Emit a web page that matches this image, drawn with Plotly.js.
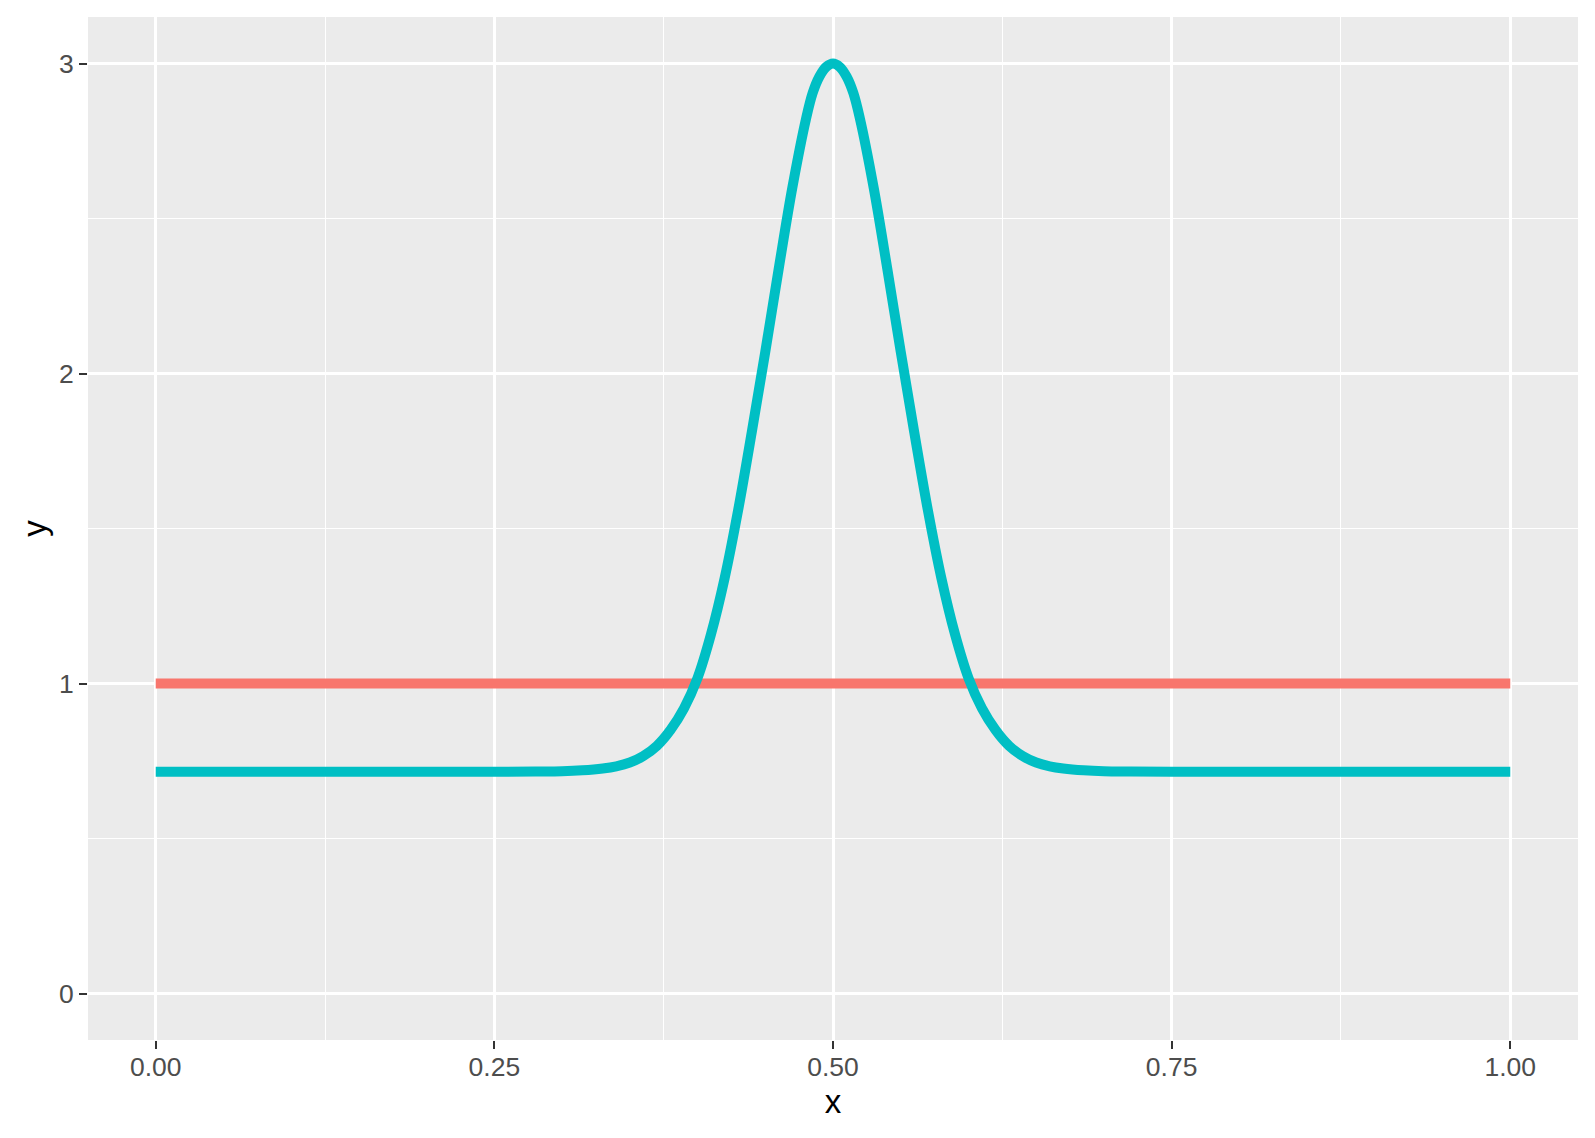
<!DOCTYPE html>
<html>
<head>
<meta charset="utf-8">
<script src="https://cdn.plot.ly/plotly-3.0.1.min.js"></script>
<style>html,body{margin:0;padding:0;background:#fff;}#chart{width:1595px;height:1138px;}</style>
</head>
<body>
<div id="chart"></div>
<script>
// Flat series (red)
var flatX = [0, 1];
var flatY = [1, 1];

// Peaked series (cyan)
var peakX = [0, 0.1, 0.2, 0.25, 0.28, 0.30, 0.315, 0.33, 0.34, 0.35, 0.36, 0.37, 0.38, 0.39, 0.40,
             0.41, 0.42, 0.43, 0.44, 0.45, 0.46, 0.47, 0.48, 0.485, 0.49, 0.495, 0.50,
             0.505, 0.51, 0.515, 0.52, 0.53, 0.54, 0.55, 0.56, 0.57, 0.58, 0.59, 0.60,
             0.61, 0.62, 0.63, 0.64, 0.65, 0.66, 0.67, 0.685, 0.70, 0.72, 0.75, 0.8, 0.9, 1.0];
var peakY = [0.715, 0.715, 0.715, 0.715, 0.716, 0.717, 0.720, 0.726, 0.733, 0.745, 0.766, 0.799, 0.850, 0.920, 1.018,
             1.16, 1.34, 1.56, 1.81, 2.07, 2.34, 2.60, 2.82, 2.905, 2.958, 2.989, 3.0,
             2.989, 2.958, 2.905, 2.82, 2.60, 2.34, 2.07, 1.81, 1.56, 1.34, 1.16, 1.018,
             0.920, 0.850, 0.799, 0.766, 0.745, 0.733, 0.726, 0.720, 0.717, 0.716, 0.715, 0.715, 0.715, 0.715];

var xTicks = [0, 0.25, 0.5, 0.75, 1];
var xTickText = ["0.00", "0.25", "0.50", "0.75", "1.00"];
var yTicks = [0, 1, 2, 3];
var yTickText = ["0", "1", "2", "3"];

var traces = [
  {x: flatX, y: flatY, type: 'scatter', mode: 'lines',
   line: {color: '#F8766D', width: 10}, hoverinfo: 'x+y'},
  {x: peakX, y: peakY, type: 'scatter', mode: 'lines',
   line: {color: '#00BFC4', width: 10, shape: 'spline', smoothing: 1}, hoverinfo: 'x+y'}
];

var tickFont = {family: 'Liberation Sans, Arial, sans-serif', size: 26.5, color: '#4D4D4D'};
var titleFont = {family: 'Liberation Sans, Arial, sans-serif', size: 33, color: '#000000'};

var layout = {
  width: 1595, height: 1138,
  margin: {l: 88, r: 17, t: 17, b: 98, pad: 0},
  paper_bgcolor: '#FFFFFF',
  plot_bgcolor: '#EBEBEB',
  showlegend: false,
  xaxis: {
    range: [-0.05, 1.05], autorange: false,
    tickmode: 'array', tickvals: xTicks, ticktext: xTickText,
    ticks: 'outside', ticklen: 8, tickwidth: 2.2, tickcolor: '#333333',
    ticklabelstandoff: -5,
    tickfont: tickFont,
    showgrid: true, gridcolor: '#FFFFFF', gridwidth: 2.6,
    minor: {tickmode: 'array', tickvals: [0.125, 0.375, 0.625, 0.875], showgrid: true, gridcolor: '#FFFFFF', gridwidth: 1.3, ticks: ''},
    zeroline: false, showline: false,
    title: {text: 'x', font: titleFont, standoff: 9},
    automargin: false
  },
  yaxis: {
    range: [-0.15, 3.15], autorange: false,
    tickmode: 'array', tickvals: yTicks, ticktext: yTickText,
    ticks: 'outside', ticklen: 8, tickwidth: 2.2, tickcolor: '#333333',
    tickfont: tickFont,
    showgrid: true, gridcolor: '#FFFFFF', gridwidth: 2.6,
    minor: {tickmode: 'array', tickvals: [0.5, 1.5, 2.5], showgrid: true, gridcolor: '#FFFFFF', gridwidth: 1.3, ticks: ''},
    zeroline: false, showline: false,
    title: {text: 'y', font: titleFont, standoff: 2},
    automargin: false
  }
};

Plotly.newPlot('chart', traces, layout, {displayModeBar: false, staticPlot: false});
</script>
</body>
</html>
